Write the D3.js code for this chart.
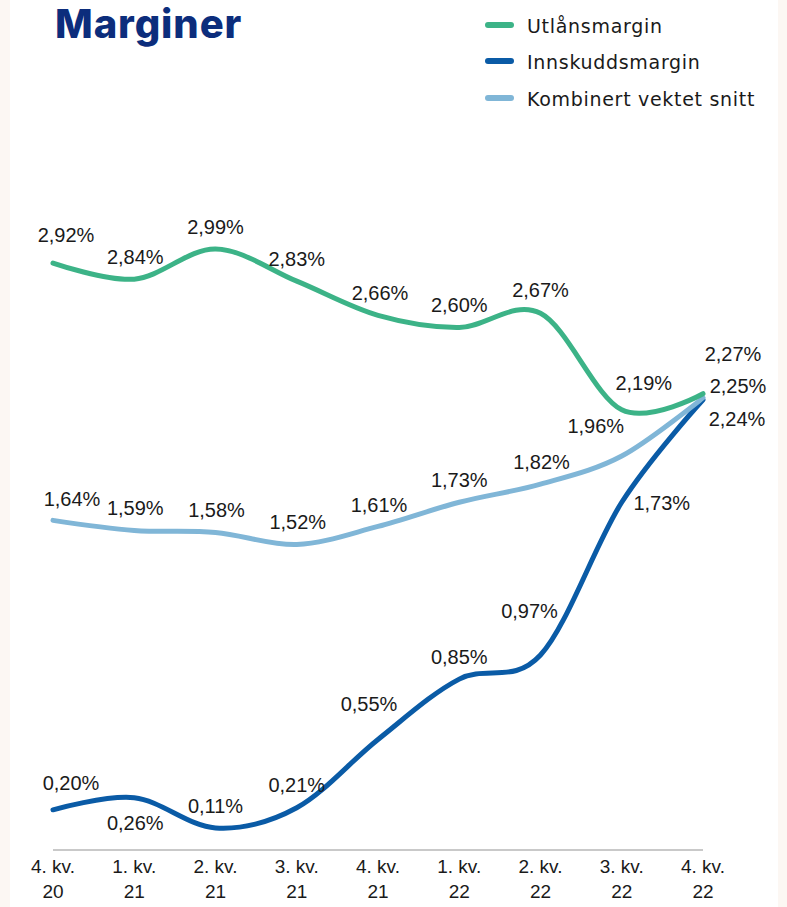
<!DOCTYPE html>
<html>
<head>
<meta charset="utf-8">
<script src="https://cdn.jsdelivr.net/npm/d3@7"></script>
<style>
  html, body { margin: 0; padding: 0; background: #ffffff; }
  svg { display: block; }
</style>
</head>
<body>
<div id="chart"></div>
<script>
// ---------- data ----------
const quarterLabels = ["4. kv.", "1. kv.", "2. kv.", "3. kv.", "4. kv.", "1. kv.", "2. kv.", "3. kv.", "4. kv."];
const yearLabels    = ["20", "21", "21", "21", "21", "22", "22", "22", "22"];
const categories = quarterLabels.map((q, i) => q + " " + yearLabels[i]);

const utlansmargin    = [2.92, 2.84, 2.99, 2.83, 2.66, 2.60, 2.67, 2.19, 2.27];
const innskuddsmargin = [0.20, 0.26, 0.11, 0.21, 0.55, 0.85, 0.97, 1.73, 2.24];
const kombinert       = [1.64, 1.59, 1.58, 1.52, 1.61, 1.73, 1.82, 1.96, 2.25];

const seriesNames = ["Utlånsmargin", "Innskuddsmargin", "Kombinert vektet snitt"];

// ---------- layout (label nudges, not data) ----------
const labelNudgeUtlan   = [[13,-21],[1,-15],[0,-15],[0,-15],[2,-15],[0,-15],[0,-16],[22,-20],[30,-33]];
const labelNudgeKomb    = [[19,-14],[1,-15],[1,-15],[1,-15],[1,-14],[0,-15],[1,-15],[-26,-23],[35,-5]];
const labelNudgeInnsk   = [[18,-20],[1,32],[0,-15],[0,-16],[-9,-28],[0,-15],[-11,-37],[40,8],[34,26]];

const colors = { utlan: "#3cb387", innsk: "#0a5ba6", komb: "#80b6d7" };

const W = 787, H = 907;
const svg = d3.select("#chart").append("svg").attr("width", W).attr("height", H);

// side strips
svg.append("rect").attr("x", 0).attr("y", 0).attr("width", 10).attr("height", H).attr("fill", "#fcf7f3");
svg.append("rect").attr("x", 778).attr("y", 0).attr("width", 9).attr("height", H).attr("fill", "#fcf7f3");

// title
svg.append("text").attr("x", 55).attr("y", 38)
  .attr("font-family", "Inter, 'Open Sans', sans-serif").attr("font-weight", 800)
  .attr("font-size", 40).attr("fill", "#0c2d7c").attr("letter-spacing", 0.9)
  .text("Marginer");

// scales
const x = d3.scalePoint().domain(categories).range([53, 703]);
const y = d3.scaleLinear().domain([0, 3]).range([850, 247]);

// axis baseline
const xAxis = d3.axisBottom(x).tickSize(0).tickFormat("");
const axisG = svg.append("g").attr("transform", "translate(0,850)").call(xAxis);
axisG.select(".domain").attr("stroke", "#c9c9c9").attr("stroke-width", 2)
  .attr("d", `M${x.range()[0]},0H${x.range()[1]}`);

// tick labels (two lines)
const tickG = svg.append("g");
categories.forEach((c, i) => {
  const t = tickG.append("text")
    .attr("x", x(c)).attr("text-anchor", "middle")
    .attr("font-family", "'Liberation Sans', Arial, sans-serif")
    .attr("font-size", 19).attr("fill", "#1a1a1a");
  t.append("tspan").attr("x", x(c)).attr("y", 873).text(quarterLabels[i]);
  t.append("tspan").attr("x", x(c)).attr("y", 898).text(yearLabels[i]);
});

const locale = d3.formatLocale({ decimal: ",", thousands: " ", grouping: [3], currency: ["", " kr"] });
const fmt = v => locale.format(".2f")(v) + "%";

const line = d3.line()
  .x((d, i) => x(categories[i]))
  .y(d => y(d))
  .curve(d3.curveCardinal.tension(0));

const series = [
  { key: "innsk", values: innskuddsmargin, nudge: labelNudgeInnsk },
  { key: "komb",  values: kombinert,       nudge: labelNudgeKomb },
  { key: "utlan", values: utlansmargin,    nudge: labelNudgeUtlan }
];

series.forEach(s => {
  svg.append("path").datum(s.values)
    .attr("d", line).attr("fill", "none")
    .attr("stroke", colors[s.key]).attr("stroke-width", 5)
    .attr("stroke-linecap", "round").attr("stroke-linejoin", "round");
});

series.forEach(s => {
  svg.append("g").selectAll("text").data(s.values).join("text")
    .attr("x", (d, i) => x(categories[i]) + s.nudge[i][0])
    .attr("y", (d, i) => y(d) + s.nudge[i][1])
    .attr("text-anchor", "middle")
    .attr("font-family", "'Liberation Sans', Arial, sans-serif")
    .attr("font-size", 20).attr("fill", "#1a1a1a")
    .text(d => fmt(d));
});

// legend
const legendKeys = ["utlan", "innsk", "komb"];
const legendYs = [25, 61, 98];
const lg = svg.append("g");
legendKeys.forEach((k, i) => {
  lg.append("line").attr("x1", 488).attr("x2", 511)
    .attr("y1", legendYs[i]).attr("y2", legendYs[i])
    .attr("stroke", colors[k]).attr("stroke-width", 6).attr("stroke-linecap", "round");
  lg.append("text").attr("x", 527).attr("y", legendYs[i] + 8)
    .attr("font-family", "'DejaVu Sans', sans-serif").attr("font-size", 19)
    .attr("letter-spacing", 0.7)
    .attr("fill", "#1a1a1a").text(seriesNames[i]);
});
</script>
</body>
</html>
